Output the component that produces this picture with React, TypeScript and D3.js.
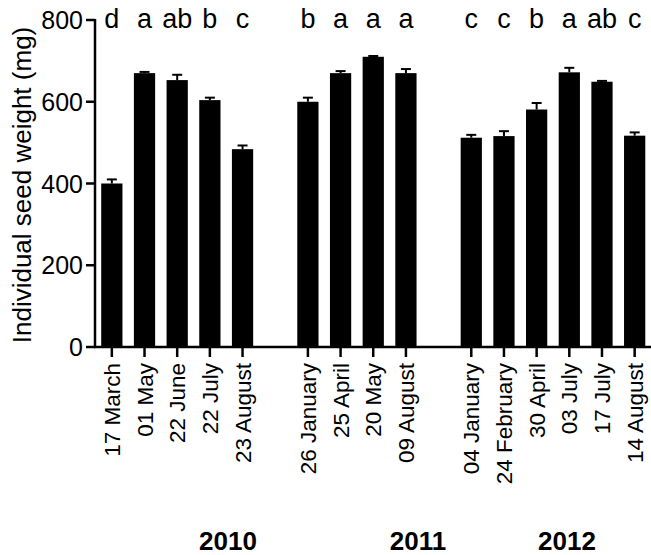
import * as d3 from "d3";

// dates in plot order, "" = empty gap slot between years
const dates = [
  "17 March", "01 May", "22 June", "22 July", "23 August", "",
  "26 January", "25 April", "20 May", "09 August", "",
  "04 January", "24 February", "30 April", "03 July", "17 July", "14 August",
];
const weights = [400, 670, 653, 604, 484, 0, 600, 670, 710, 670, 0, 512, 516, 581, 672, 649, 517];
const errors = [10, 3, 13, 6, 9, 0, 10, 5, 2, 10, 0, 7, 12, 16, 11, 2, 8];
const letters = ["d", "a", "ab", "b", "c", "", "b", "a", "a", "a", "", "c", "c", "b", "a", "ab", "c"];
const yTicks = [0, 200, 400, 600, 800];
const years = ["2010", "2011", "2012"];

const W = 651;
const H = 555;
const font = "Liberation Sans, Arial, Helvetica, sans-serif";

export default function App() {
  const slots = dates.map((_, i) => String(i));
  const x = d3.scaleBand<string>().domain(slots).range([95.5, 651]).paddingInner(0.35).paddingOuter(0.175);
  const y = d3.scaleLinear().domain([0, 800]).range([347, 20]);
  const bw = x.bandwidth();
  const cx = (i: number) => (x(String(i)) ?? 0) + bw / 2;
  const yearX = [228, 418, 567];

  return (
    <svg width={W} height={H} style={{ position: "absolute", left: 0, top: 0, background: "#fff" }} fontFamily={font}>
      {/* bars */}
      {dates.map((d, i) =>
        d ? (
          <g key={i}>
            <rect x={x(String(i))} y={y(weights[i])} width={bw} height={y(0) - y(weights[i])} fill="#000" />
            <line x1={cx(i)} x2={cx(i)} y1={y(weights[i])} y2={y(weights[i] + errors[i])} stroke="#000" strokeWidth={2} />
            <line x1={cx(i) - 5} x2={cx(i) + 5} y1={y(weights[i] + errors[i])} y2={y(weights[i] + errors[i])} stroke="#000" strokeWidth={2} />
            <text x={cx(i)} y={28} fontSize={27} textAnchor="middle">{letters[i]}</text>
            <line x1={cx(i)} x2={cx(i)} y1={y(0)} y2={y(0) + 10} stroke="#000" strokeWidth={2.5} />
            <text transform={`translate(${cx(i) + 8},363) rotate(-90)`} fontSize={22.5} textAnchor="end">{d}</text>
          </g>
        ) : null
      )}
      {/* y axis */}
      <line x1={95} x2={95} y1={y(800) - 1} y2={y(0) + 1} stroke="#000" strokeWidth={2.5} />
      {yTicks.map((t) => (
        <g key={t}>
          <line x1={86} x2={95} y1={y(t)} y2={y(t)} stroke="#000" strokeWidth={2.5} />
          <text x={83} y={y(t) + 9} fontSize={25} textAnchor="end">{t}</text>
        </g>
      ))}
      {/* x axis */}
      <line x1={94} x2={651} y1={y(0)} y2={y(0)} stroke="#000" strokeWidth={2.5} />
      <text transform="translate(31,185) rotate(-90)" fontSize={26} textAnchor="middle">Individual seed weight (mg)</text>
      {years.map((yr, i) => (
        <text key={yr} x={yearX[i]} y={550} fontSize={26} fontWeight="bold" textAnchor="middle">{yr}</text>
      ))}
    </svg>
  );
}
